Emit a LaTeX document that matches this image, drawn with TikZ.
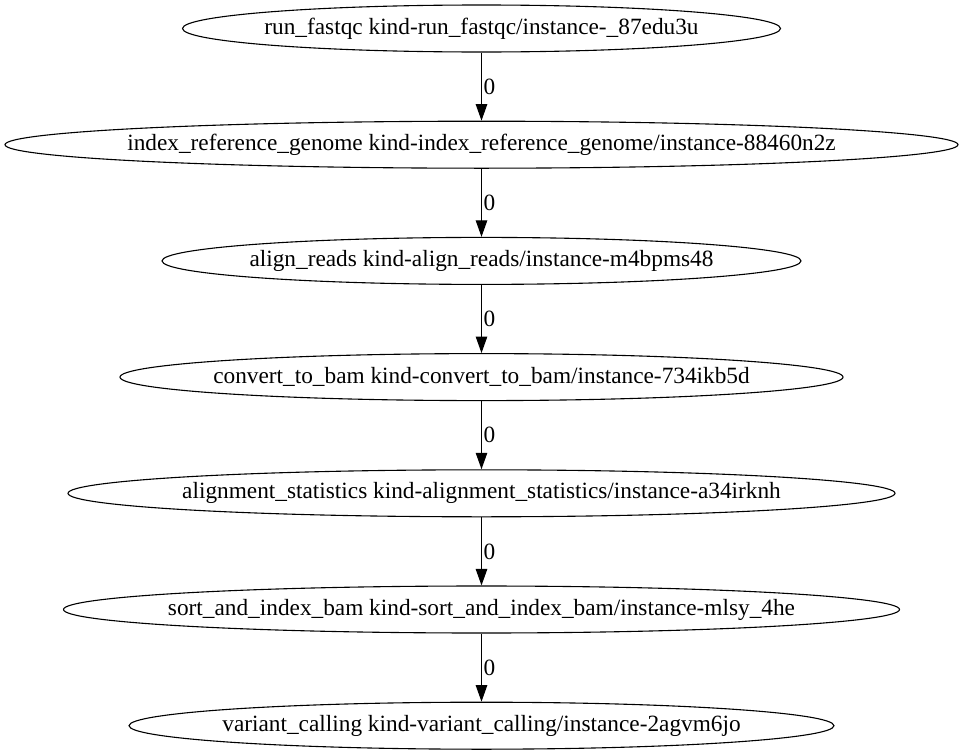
\documentclass[tikz,border=0pt]{standalone}
\usepackage{fontspec}
\setmainfont{Liberation Serif}
\usetikzlibrary{arrows.meta,shapes.geometric}
\newcommand{\zw}[1]{\makebox[0pt]{#1}}
\begin{document}
\begin{tikzpicture}[x=1pt,y=-1pt,
  task/.style={draw, ellipse, line width=1.1pt, inner sep=0pt, minimum height=47pt,
    font=\fontsize{23.3}{28}\selectfont},
  link/.style={line width=1.1pt, -{Triangle[length=16.5pt,width=11.5pt]}},
  elabel/.style={anchor=west, inner sep=1.5pt, font=\fontsize{23.3}{28}\selectfont}]
\useasboundingbox (0,0) rectangle (964,755);
\node[task, minimum width=598pt] (n1) at (481.5,28.5) {\zw{run\_fastqc kind-run\_fastqc/instance-\_87edu3u}};
\node[task, minimum width=953pt] (n2) at (481.5,144.7) {\zw{index\_reference\_genome kind-index\_reference\_genome/instance-88460n2z}};
\node[task, minimum width=639pt] (n3) at (481.5,260.9) {\zw{align\_reads kind-align\_reads/instance-m4bpms48}};
\node[task, minimum width=723pt] (n4) at (481.5,377.1) {\zw{convert\_to\_bam kind-convert\_to\_bam/instance-734ikb5d}};
\node[task, minimum width=827pt] (n5) at (481.5,493.3) {\zw{alignment\_statistics kind-alignment\_statistics/instance-a34irknh}};
\node[task, minimum width=836pt] (n6) at (481.5,609.5) {\zw{sort\_and\_index\_bam kind-sort\_and\_index\_bam/instance-mlsy\_4he}};
\node[task, minimum width=705pt] (n7) at (481.5,725.7) {\zw{variant\_calling kind-variant\_calling/instance-2agvm6jo}};
\draw[link] (n1.south) -- (n2.north) node[elabel, midway] {0};
\draw[link] (n2.south) -- (n3.north) node[elabel, midway] {0};
\draw[link] (n3.south) -- (n4.north) node[elabel, midway] {0};
\draw[link] (n4.south) -- (n5.north) node[elabel, midway] {0};
\draw[link] (n5.south) -- (n6.north) node[elabel, midway] {0};
\draw[link] (n6.south) -- (n7.north) node[elabel, midway] {0};
\end{tikzpicture}
\end{document}
